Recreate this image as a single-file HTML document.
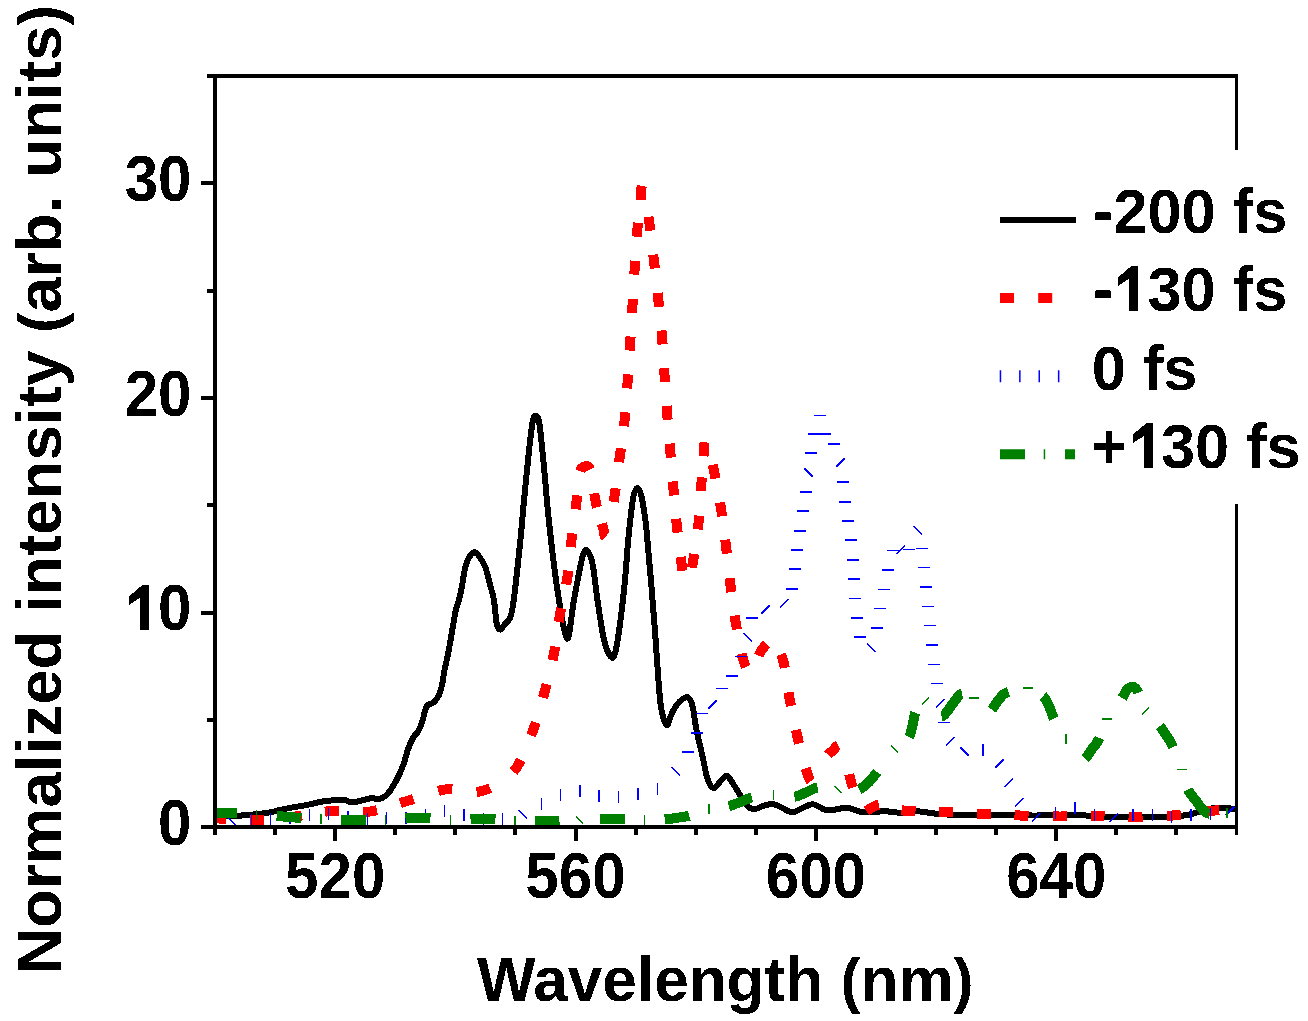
<!DOCTYPE html>
<html><head><meta charset="utf-8"><style>
html,body{margin:0;padding:0;background:#fff;width:1308px;height:1021px;overflow:hidden}
svg{display:block}
</style></head><body>
<svg width="1308" height="1021" viewBox="0 0 1308 1021">
<rect width="1308" height="1021" fill="#fff"/>
<defs><clipPath id="pc"><rect x="217" y="78" width="1018" height="747"/></clipPath><filter id="bin" x="0" y="0" width="100%" height="100%" color-interpolation-filters="sRGB"><feComponentTransfer><feFuncA type="discrete" tableValues="0 1"/></feComponentTransfer></filter></defs>
<g clip-path="url(#pc)" fill="none" stroke-linejoin="round" stroke-linecap="butt" shape-rendering="crispEdges">
<path d="M212.00,816.00 C215.55,816.00 226.68,816.23 233.30,816.00 C239.92,815.77 245.58,815.20 251.70,814.60 C257.82,814.00 265.72,813.07 270.00,812.40 C274.28,811.73 274.33,811.30 277.40,810.60 C280.47,809.90 283.52,809.13 288.40,808.20 C293.28,807.27 300.88,806.13 306.70,805.00 C312.52,803.87 317.18,802.23 323.30,801.40 C329.42,800.57 338.52,799.85 343.40,800.00 C348.28,800.15 348.00,802.58 352.60,802.30 C357.20,802.02 367.03,798.83 371.00,798.30 C374.97,797.77 374.45,799.18 376.40,799.10 C378.35,799.02 380.58,798.97 382.70,797.80 C384.82,796.63 386.97,794.75 389.10,792.10 C391.23,789.45 393.58,785.30 395.50,781.90 C397.42,778.50 399.12,775.10 400.60,771.70 C402.08,768.30 403.13,765.32 404.40,761.50 C405.67,757.68 406.72,752.83 408.20,748.80 C409.68,744.77 411.60,740.27 413.30,737.30 C415.00,734.33 416.92,733.55 418.40,731.00 C419.88,728.45 421.13,725.20 422.20,722.00 C423.27,718.80 423.95,714.55 424.80,711.80 C425.65,709.05 425.82,707.08 427.30,705.50 C428.78,703.92 431.78,704.00 433.70,702.30 C435.62,700.60 437.42,698.17 438.80,695.30 C440.18,692.43 441.07,689.23 442.00,685.10 C442.93,680.97 443.42,675.58 444.40,670.50 C445.38,665.42 446.88,659.60 447.90,654.60 C448.92,649.60 449.62,645.48 450.50,640.50 C451.38,635.52 452.32,629.70 453.20,624.70 C454.08,619.70 454.77,614.92 455.80,610.50 C456.83,606.08 458.37,602.30 459.40,598.20 C460.43,594.10 461.12,590.60 462.00,585.90 C462.88,581.20 463.82,574.12 464.70,570.00 C465.58,565.88 466.28,563.70 467.30,561.20 C468.32,558.70 469.48,556.48 470.80,555.00 C472.12,553.52 473.87,552.15 475.20,552.30 C476.53,552.45 477.13,553.45 478.80,555.90 C480.47,558.35 483.25,561.92 485.20,567.00 C487.15,572.08 489.03,580.82 490.50,586.40 C491.97,591.98 492.97,594.33 494.00,600.50 C495.03,606.67 495.67,618.55 496.70,623.40 C497.73,628.25 498.73,629.60 500.20,629.60 C501.67,629.60 503.88,625.30 505.50,623.40 C507.12,621.50 508.72,620.83 509.90,618.20 C511.08,615.57 511.72,612.60 512.60,607.60 C513.48,602.60 514.18,596.73 515.20,588.20 C516.22,579.67 517.67,566.10 518.70,556.40 C519.73,546.70 520.60,538.43 521.40,530.00 C522.20,521.57 522.27,518.65 523.50,505.80 C524.73,492.95 527.25,467.00 528.80,452.90 C530.35,438.80 531.57,427.37 532.80,421.20 C534.03,415.03 535.10,415.47 536.20,415.90 C537.30,416.33 538.20,416.32 539.40,423.80 C540.60,431.28 541.85,444.93 543.40,460.80 C544.95,476.67 546.72,499.97 548.70,519.00 C550.68,538.03 553.32,559.83 555.30,575.00 C557.28,590.17 558.98,600.33 560.60,610.00 C562.22,619.67 563.67,628.62 565.00,633.00 C566.33,637.38 567.13,641.63 568.60,636.30 C570.07,630.97 571.85,612.60 573.80,601.00 C575.75,589.40 578.77,574.37 580.30,566.70 C581.83,559.03 582.13,557.78 583.00,555.00 C583.87,552.22 584.67,550.58 585.50,550.00 C586.33,549.42 587.08,550.17 588.00,551.50 C588.92,552.83 590.08,555.03 591.00,558.00 C591.92,560.97 592.40,562.13 593.50,569.30 C594.60,576.47 595.82,589.10 597.60,601.00 C599.38,612.90 602.00,631.43 604.20,640.70 C606.40,649.97 609.03,654.38 610.80,656.60 C612.57,658.82 613.47,657.97 614.80,654.00 C616.13,650.03 617.18,644.27 618.80,632.80 C620.42,621.33 622.93,600.67 624.50,585.20 C626.07,569.73 627.18,551.37 628.20,540.00 C629.22,528.63 629.75,524.17 630.60,517.00 C631.45,509.83 632.47,501.50 633.30,497.00 C634.13,492.50 634.90,491.45 635.60,490.00 C636.30,488.55 636.87,488.30 637.50,488.30 C638.13,488.30 638.72,488.55 639.40,490.00 C640.08,491.45 640.90,494.00 641.60,497.00 C642.30,500.00 642.97,504.17 643.60,508.00 C644.23,511.83 644.90,516.17 645.40,520.00 C645.90,523.83 646.03,524.93 646.60,531.00 C647.17,537.07 648.05,547.92 648.80,556.40 C649.55,564.88 650.38,573.42 651.10,581.90 C651.82,590.38 652.43,598.82 653.10,607.30 C653.77,615.78 654.47,624.30 655.10,632.80 C655.73,641.30 656.30,649.82 656.90,658.30 C657.50,666.78 657.97,675.22 658.70,683.70 C659.43,692.18 660.03,702.32 661.30,709.20 C662.57,716.08 665.02,723.03 666.30,725.00 C667.58,726.97 668.08,722.92 669.00,721.00 C669.92,719.08 670.52,716.17 671.80,713.50 C673.08,710.83 674.87,707.45 676.70,705.00 C678.53,702.55 680.95,700.08 682.80,698.80 C684.65,697.52 686.37,696.68 687.80,697.30 C689.23,697.92 690.45,700.22 691.40,702.50 C692.35,704.78 692.67,706.48 693.50,711.00 C694.33,715.52 694.90,722.05 696.40,729.60 C697.90,737.15 700.67,748.17 702.50,756.30 C704.33,764.43 705.57,773.08 707.40,778.40 C709.23,783.72 711.27,787.80 713.50,788.20 C715.73,788.60 718.55,782.83 720.80,780.80 C723.05,778.77 724.75,775.18 727.00,776.00 C729.25,776.82 732.07,782.45 734.30,785.70 C736.53,788.95 738.15,792.03 740.40,795.50 C742.65,798.97 745.35,804.25 747.80,806.50 C750.25,808.75 752.25,809.20 755.10,809.00 C757.95,808.80 761.83,806.12 764.90,805.30 C767.97,804.48 770.65,803.68 773.50,804.10 C776.35,804.52 778.87,806.45 782.00,807.80 C785.13,809.15 788.82,812.20 792.30,812.20 C795.78,812.20 799.38,809.12 802.90,807.80 C806.42,806.48 809.30,803.87 813.40,804.30 C817.50,804.73 821.93,809.82 827.50,810.40 C833.07,810.98 840.95,807.50 846.80,807.80 C852.65,808.10 856.15,811.62 862.60,812.20 C869.05,812.78 878.75,811.15 885.50,811.30 C892.25,811.45 897.82,813.10 903.10,813.10 C908.38,813.10 911.33,811.15 917.20,811.30 C923.07,811.45 931.87,813.42 938.30,814.00 C944.73,814.58 949.95,814.57 955.80,814.80 C961.65,815.03 964.60,815.30 973.40,815.40 C982.20,815.50 998.05,815.38 1008.60,815.40 C1019.15,815.42 1025.90,815.57 1036.70,815.50 C1047.50,815.43 1061.18,814.78 1073.40,815.00 C1085.62,815.22 1097.77,816.42 1110.00,816.80 C1122.23,817.18 1134.55,817.52 1146.80,817.30 C1159.05,817.08 1174.93,816.35 1183.50,815.50 C1192.07,814.65 1193.62,813.37 1198.20,812.20 C1202.78,811.03 1207.33,809.27 1211.00,808.50 C1214.67,807.73 1216.83,807.60 1220.20,807.60 C1223.57,807.60 1227.90,808.20 1231.20,808.50 C1234.50,808.80 1238.53,809.25 1240.00,809.40" stroke="#000" stroke-width="6"/>
<path d="M210.00,818.00 C211.50,818.08 211.20,818.17 219.00,818.50 C226.80,818.83 244.13,820.33 256.80,820.00 C269.47,819.67 282.47,818.00 295.00,816.50 C307.53,815.00 319.50,811.83 332.00,811.00 C344.50,810.17 357.50,813.17 370.00,811.50 C382.50,809.83 394.50,804.67 407.00,801.00 C419.50,797.33 435.17,790.92 445.00,789.50 C454.83,788.08 459.58,792.33 466.00,792.50 C472.42,792.67 477.67,792.25 483.50,790.50 C489.33,788.75 495.33,786.07 501.00,782.00 C506.67,777.93 512.08,774.90 517.50,766.10 C522.92,757.30 528.95,741.70 533.50,729.20 C538.05,716.70 541.38,703.72 544.80,691.10 C548.22,678.48 551.50,666.15 554.00,653.50 C556.50,640.85 557.58,627.83 559.80,615.20 C562.02,602.57 565.35,590.20 567.30,577.70 C569.25,565.20 569.98,552.73 571.50,540.20 C573.02,527.67 575.32,512.37 576.40,502.50 C577.48,492.63 577.32,486.42 578.00,481.00 C578.68,475.58 579.42,472.42 580.50,470.00 C581.58,467.58 583.08,466.92 584.50,466.50 C585.92,466.08 587.75,465.92 589.00,467.50 C590.25,469.08 590.95,470.58 592.00,476.00 C593.05,481.42 593.97,493.17 595.30,500.00 C596.63,506.83 598.62,512.00 600.00,517.00 C601.38,522.00 602.77,526.67 603.60,530.00 C604.43,533.33 604.27,536.50 605.00,537.00 C605.73,537.50 606.40,539.92 608.00,533.00 C609.60,526.08 612.62,508.37 614.60,495.50 C616.58,482.63 618.22,468.45 619.90,455.80 C621.58,443.15 623.42,431.93 624.70,419.60 C625.98,407.27 626.70,394.40 627.60,381.80 C628.50,369.20 629.30,356.55 630.10,344.00 C630.90,331.45 631.63,319.15 632.40,306.50 C633.17,293.85 633.88,280.80 634.70,268.10 C635.52,255.40 636.42,240.48 637.30,230.30 C638.18,220.12 639.38,213.13 640.00,207.00 C640.62,200.87 640.73,196.92 641.00,193.50 C641.27,190.08 641.40,187.83 641.60,186.50 C641.80,185.17 641.88,185.25 642.20,185.50 C642.52,185.75 642.95,185.92 643.50,188.00 C644.05,190.08 644.52,192.12 645.50,198.00 C646.48,203.88 647.98,212.80 649.40,223.30 C650.82,233.80 652.52,248.32 654.00,261.00 C655.48,273.68 656.97,286.75 658.30,299.40 C659.63,312.05 660.97,324.35 662.00,336.90 C663.03,349.45 663.65,362.13 664.50,374.70 C665.35,387.27 666.15,399.73 667.10,412.30 C668.05,424.87 669.15,437.50 670.20,450.10 C671.25,462.70 672.30,475.37 673.40,487.90 C674.50,500.43 675.45,512.75 676.80,525.30 C678.15,537.85 680.30,554.42 681.50,563.20 C682.70,571.98 683.08,574.87 684.00,578.00 C684.92,581.13 686.00,582.00 687.00,582.00 C688.00,582.00 689.00,581.42 690.00,578.00 C691.00,574.58 691.58,570.62 693.00,561.50 C694.42,552.38 697.12,536.07 698.50,523.30 C699.88,510.53 700.38,497.12 701.30,484.90 C702.22,472.68 703.42,457.32 704.00,450.00 C704.58,442.68 704.38,442.67 704.80,441.00 C705.22,439.33 705.72,438.50 706.50,440.00 C707.28,441.50 708.25,444.83 709.50,450.00 C710.75,455.17 712.08,461.25 714.00,471.00 C715.92,480.75 719.00,496.00 721.00,508.50 C723.00,521.00 724.43,533.37 726.00,546.00 C727.57,558.63 728.80,571.67 730.40,584.30 C732.00,596.93 733.47,609.27 735.60,621.80 C737.73,634.33 740.63,651.13 743.20,659.50 C745.77,667.87 747.95,673.53 751.00,672.00 C754.05,670.47 757.83,655.47 761.50,650.30 C765.17,645.13 769.42,639.38 773.00,641.00 C776.58,642.62 780.25,650.50 783.00,660.00 C785.75,669.50 787.13,685.38 789.50,698.00 C791.87,710.62 794.22,723.05 797.20,735.70 C800.18,748.35 804.60,766.35 807.40,773.90 C810.20,781.45 810.90,783.82 814.00,781.00 C817.10,778.18 822.97,762.00 826.00,757.00 C829.03,752.00 829.87,753.00 832.20,751.00 C834.53,749.00 837.70,743.83 840.00,745.00 C842.30,746.17 844.25,752.25 846.00,758.00 C847.75,763.75 848.83,773.00 850.50,779.50 C852.17,786.00 854.08,791.58 856.00,797.00 C857.92,802.42 859.50,810.17 862.00,812.00 C864.50,813.83 868.00,809.25 871.00,808.00 C874.00,806.75 876.83,804.67 880.00,804.50 C883.17,804.33 885.50,805.92 890.00,807.00 C894.50,808.08 897.92,810.17 907.00,811.00 C916.08,811.83 931.92,811.50 944.50,812.00 C957.08,812.50 969.92,813.42 982.50,814.00 C995.08,814.58 1007.33,815.08 1020.00,815.50 C1032.67,815.92 1045.83,816.42 1058.50,816.50 C1071.17,816.58 1083.42,815.92 1096.00,816.00 C1108.58,816.08 1121.25,817.08 1134.00,817.00 C1146.75,816.92 1159.75,816.50 1172.50,815.50 C1185.25,814.50 1199.25,812.25 1210.50,811.00 C1221.75,809.75 1235.08,808.50 1240.00,808.00" stroke="#ff0000" stroke-width="10" stroke-dasharray="0.00 2.01 14.00 23.84 14.00 24.37 14.00 23.42 14.00 24.06 14.00 24.51 14.00 25.74 14.00 25.09 14.00 28.67 14.00 26.27 14.00 25.75 14.00 24.72 14.00 24.74 14.00 24.25 14.00 23.74 14.00 24.02 14.00 24.40 14.00 24.27 14.00 17.14 14.00 37.97 14.00 26.05 14.00 22.52 14.00 23.91 14.00 23.88 14.00 23.57 14.00 24.47 14.00 23.89 14.00 23.00 14.00 33.25 14.00 23.98 14.00 24.64 14.00 23.68 14.00 23.88 14.00 23.69 14.00 23.93 14.00 23.94 14.00 23.56 14.00 24.19 14.00 28.48 14.00 24.60 14.00 24.51 14.00 21.00 14.00 30.22 14.00 24.15 14.00 23.83 14.00 24.55 14.00 23.86 14.00 24.48 14.00 26.30 14.00 23.61 14.00 24.57 14.00 24.48 14.00 25.55 14.00 33.82 14.00 32.81 14.00 31.03 14.00 23.59 14.00 23.52 14.00 24.05 14.00 23.53 14.00 24.51 14.00 23.50 14.00 24.02 14.00 24.54 14.00 24.27 14.00 122.65"/>
<path d="M227.3,816.8l8.5,8.5M251.3,813.5v12M270.4,813.0v12M289.9,812.0v12M309.5,809.0v12M328.4,807.5v12M348.0,811.0v12M367.3,813.0v12M386.5,812.0v12M405.8,812.0v12M425.5,808.5v12M444.4,805.0v12M463.9,809.0v12M483.3,813.0v12M502.6,813.0v12M518.3,809.8l8.5,8.5M541.4,798.0v12M560.3,789.0v12M580.2,784.5v12M599.0,790.0v12M618.3,791.0v12M637.8,788.0v12M657.3,782.5v12M671.4,767.2l8.5,8.5M681.8,752.2h12M690.6,732.8h12M696.0,713.4h12M708.5,708.6l8.5,-8.5M715.5,688.4h12M726.0,676.0h12M735.0,656.3h12M743.5,633.2l8.5,8.5M745.6,617.8h12M761.4,613.6l8.5,-8.5M780.2,607.5l8.5,-8.5M786.3,588.7h12M789.1,569.1h12M791.0,549.9h12M793.6,530.7h12M796.5,511.2h12M800.0,491.8h12M804.2,468.2l8.5,8.5M805.3,453.2h12M808.2,433.9h12M814.1,415.3h12M818.6,434.2h12M827.8,443.8h12M836.1,466.8l8.5,-8.5M837.0,482.2h12M839.4,501.8h12M841.5,520.7h12M845.0,540.2h12M846.5,559.7h12M847.5,578.8h12M848.5,598.3h12M851.1,618.0h12M854.4,637.0h12M867.4,643.6l8.5,8.5M871.4,627.9h12M874.4,608.5h12M877.9,589.3h12M882.0,569.9h12M886.7,550.4h12M896.5,553.8l8.5,-8.5M903.0,549.4h12M913.5,526.3l8.5,8.5M915.5,548.4h12M917.5,567.4h12M919.9,586.9h12M922.3,606.3h12M924.2,625.3h12M926.4,645.0h12M928.3,664.4h12M930.9,683.6h12M936.0,707.4l8.5,-8.5M938.0,722.3h12M946.1,745.6l8.5,-8.5M960.3,747.4l8.5,8.5M982.9,743.8v12M995.2,767.7l8.5,-8.5M1004.1,787.1l8.5,-8.5M1015.0,806.4l8.5,-8.5M1032.0,821.6l8.5,-8.5M1055.3,807.0v12M1074.7,802.3v12M1094.5,809.0v12M1109.6,821.9l8.5,-8.5M1133.0,809.3v12M1152.3,809.3v12M1171.6,810.8v12M1190.8,809.3v12M1210.5,808.0v12M1225.6,815.5l8.5,-8.5" stroke="#0000ff" stroke-width="1.6"/>
<path d="M211.00,812.50 C213.25,812.55 220.17,812.72 224.50,812.80 C228.83,812.88 231.68,812.67 237.00,813.00 C242.32,813.33 249.90,814.30 256.40,814.80 C262.90,815.30 270.57,815.63 276.00,816.00 C281.43,816.37 284.67,816.67 289.00,817.00 C293.33,817.33 296.67,817.67 302.00,818.00 C307.33,818.33 314.50,818.67 321.00,819.00 C327.50,819.33 335.57,819.83 341.00,820.00 C346.43,820.17 349.43,820.00 353.60,820.00 C357.77,820.00 360.67,820.00 366.00,820.00 C371.33,820.00 379.02,820.33 385.60,820.00 C392.18,819.67 400.10,818.33 405.50,818.00 C410.90,817.67 413.80,818.00 418.00,818.00 C422.20,818.00 425.27,817.67 430.70,818.00 C436.13,818.33 443.97,819.83 450.60,820.00 C457.23,820.17 465.10,819.10 470.50,819.00 C475.90,818.90 478.75,819.33 483.00,819.40 C487.25,819.47 490.67,819.13 496.00,819.40 C501.33,819.67 508.58,820.73 515.00,821.00 C521.42,821.27 529.17,821.00 534.50,821.00 C539.83,821.00 542.78,821.00 547.00,821.00 C551.22,821.00 554.37,821.20 559.80,821.00 C565.23,820.80 572.83,820.13 579.60,819.80 C586.37,819.47 594.90,819.13 600.40,819.00 C605.90,818.87 608.55,819.00 612.60,819.00 C616.65,819.00 619.37,818.83 624.70,819.00 C630.03,819.17 638.05,819.92 644.60,820.00 C651.15,820.08 658.60,819.87 664.00,819.50 C669.40,819.13 672.67,818.47 677.00,817.80 C681.33,817.13 684.68,817.03 690.00,815.50 C695.32,813.97 702.70,810.10 708.90,808.60 C715.10,807.10 721.95,807.60 727.20,806.50 C732.45,805.40 736.00,803.58 740.40,802.00 C744.80,800.42 748.08,798.17 753.60,797.00 C759.12,795.83 767.02,795.00 773.50,795.00 C779.98,795.00 787.08,797.42 792.50,797.00 C797.92,796.58 801.53,794.17 806.00,792.50 C810.47,790.83 813.97,787.55 819.30,787.00 C824.63,786.45 832.38,788.53 838.00,789.20 C843.62,789.87 849.17,791.12 853.00,791.00 C856.83,790.88 858.33,790.00 861.00,788.50 C863.67,787.00 866.58,784.42 869.00,782.00 C871.42,779.58 873.50,776.58 875.50,774.00 C877.50,771.42 877.83,770.62 881.00,766.50 C884.17,762.38 890.00,753.88 894.50,749.30 C899.00,744.72 905.00,743.00 908.00,739.00 C911.00,735.00 911.17,729.97 912.50,725.30 C913.83,720.63 913.83,715.08 916.00,711.00 C918.17,706.92 921.42,699.88 925.50,700.80 C929.58,701.72 936.17,715.72 940.50,716.50 C944.83,717.28 948.03,709.25 951.50,705.50 C954.97,701.75 957.58,695.25 961.30,694.00 C965.02,692.75 969.85,694.33 973.80,698.00 C977.75,701.67 980.88,715.67 985.00,716.00 C989.12,716.33 995.33,703.67 998.50,700.00 C1001.67,696.33 1001.75,695.50 1004.00,694.00 C1006.25,692.50 1008.05,692.00 1012.00,691.00 C1015.95,690.00 1022.53,687.17 1027.70,688.00 C1032.87,688.83 1039.45,693.00 1043.00,696.00 C1046.55,699.00 1047.17,702.25 1049.00,706.00 C1050.83,709.75 1051.18,713.00 1054.00,718.50 C1056.82,724.00 1061.40,732.08 1065.90,739.00 C1070.40,745.92 1076.65,758.33 1081.00,760.00 C1085.35,761.67 1089.00,752.50 1092.00,749.00 C1095.00,745.50 1096.50,744.00 1099.00,739.00 C1101.50,734.00 1103.33,725.50 1107.00,719.00 C1110.67,712.50 1117.50,705.08 1121.00,700.00 C1124.50,694.92 1125.42,690.25 1128.00,688.50 C1130.58,686.75 1133.62,685.75 1136.50,689.50 C1139.38,693.25 1142.22,705.92 1145.30,711.00 C1148.38,716.08 1151.47,715.92 1155.00,720.00 C1158.53,724.08 1163.25,730.50 1166.50,735.50 C1169.75,740.50 1171.92,744.33 1174.50,750.00 C1177.08,755.67 1179.92,763.17 1182.00,769.50 C1184.08,775.83 1184.50,782.58 1187.00,788.00 C1189.50,793.42 1194.33,798.33 1197.00,802.00 C1199.67,805.67 1200.83,808.00 1203.00,810.00 C1205.17,812.00 1206.00,813.53 1210.00,814.00 C1214.00,814.47 1222.00,813.13 1227.00,812.80 C1232.00,812.47 1237.83,812.13 1240.00,812.00" stroke="#008000" stroke-width="10" stroke-dasharray="0.00 1.00 25.00 39.66 25.00 39.69 25.00 39.51 25.00 40.15 25.00 39.07 25.00 40.66 25.00 39.56 25.00 40.76 25.00 42.62 25.00 42.32 25.00 48.09 25.00 39.79 31.00 44.05 25.00 37.11 25.00 54.76 25.00 45.99 25.00 40.68 25.00 44.92 33.00 131.90"/>
<path d="M256.4,809.8v10M321.0,814.0v10M385.6,815.0v10M450.6,815.0v10M515.0,816.0v10M576.1,816.3l7.07,7.07M644.6,815.0v10M708.9,803.6v10M773.5,790.0v10M834.5,785.7l7.07,7.07M891.0,745.8l7.07,7.07M922.0,704.3l7.07,-7.07M968.8,698.0h10M1022.7,688.0h10M1065.9,734.0v10M1102.0,719.0h10M1141.8,714.5l7.07,-7.07M1177.0,769.5h10M1227.0,807.8v10" stroke="#008000" stroke-width="1.6"/>
</g>
<g fill="#000" shape-rendering="crispEdges">
<rect x="213" y="74" width="1025" height="4"/>
<rect x="213" y="74" width="4" height="755"/>
<rect x="201" y="825" width="1037" height="4"/>
<rect x="1235" y="74" width="3" height="76"/>
<rect x="1235" y="504" width="3" height="331"/>
<rect x="201" y="825" width="14" height="4"/>
<rect x="207" y="718" width="8" height="4"/>
<rect x="201" y="611" width="14" height="4"/>
<rect x="207" y="503" width="8" height="4"/>
<rect x="201" y="396" width="14" height="4"/>
<rect x="207" y="289" width="8" height="4"/>
<rect x="201" y="181" width="14" height="4"/>
<rect x="207" y="74" width="8" height="4"/>
<rect x="213" y="827" width="4" height="8"/>
<rect x="273" y="827" width="4" height="8"/>
<rect x="333" y="827" width="4" height="14"/>
<rect x="393" y="827" width="4" height="8"/>
<rect x="453" y="827" width="4" height="8"/>
<rect x="513" y="827" width="4" height="8"/>
<rect x="574" y="827" width="4" height="14"/>
<rect x="634" y="827" width="4" height="8"/>
<rect x="694" y="827" width="4" height="8"/>
<rect x="754" y="827" width="4" height="8"/>
<rect x="814" y="827" width="4" height="14"/>
<rect x="874" y="827" width="4" height="8"/>
<rect x="934" y="827" width="4" height="8"/>
<rect x="994" y="827" width="4" height="8"/>
<rect x="1054" y="827" width="4" height="14"/>
<rect x="1114" y="827" width="4" height="8"/>
<rect x="1174" y="827" width="4" height="8"/>
</g>
<g font-family='"Liberation Sans", sans-serif' font-weight="bold" fill="#000" filter="url(#bin)">
<text transform="translate(191.5,845.0) scale(0.925,1)" font-size="65.0" text-anchor="end">0</text>
<text transform="translate(191.5,630.3) scale(0.925,1)" font-size="65.0" text-anchor="end">10</text>
<text transform="translate(191.5,415.7) scale(0.925,1)" font-size="65.0" text-anchor="end">20</text>
<text transform="translate(191.5,201.0) scale(0.925,1)" font-size="65.0" text-anchor="end">30</text>
<text transform="translate(335.2,898.0) scale(0.925,1)" font-size="65.0" text-anchor="middle">520</text>
<text transform="translate(575.5,898.0) scale(0.925,1)" font-size="65.0" text-anchor="middle">560</text>
<text transform="translate(815.9,898.0) scale(0.925,1)" font-size="65.0" text-anchor="middle">600</text>
<text transform="translate(1056.3,898.0) scale(0.925,1)" font-size="65.0" text-anchor="middle">640</text>
<text transform="translate(477.0,1001.0) scale(0.978,1)" font-size="63.5" text-anchor="start">Wavelength <tspan font-size="61.5">(</tspan>nm<tspan font-size="61.5">)</tspan></text>
<text transform="translate(61.0,974.0) rotate(-90) scale(1.004,1)" font-size="63.5" text-anchor="start">Normalized intensity <tspan font-size="61.5">(</tspan>arb. units<tspan font-size="61.5">)</tspan></text>
<text transform="translate(1093.0,233.0) scale(0.966,1)" font-size="63.5" text-anchor="start">-200 fs</text>
<text transform="translate(1093.0,311.0) scale(0.966,1)" font-size="63.5" text-anchor="start">-130 fs</text>
<text transform="translate(1091.8,390.0) scale(0.966,1)" font-size="63.5" text-anchor="start">0 fs</text>
<text transform="translate(1091.0,468.0) scale(0.966,1)" font-size="63.5" text-anchor="start">+130 fs</text>
</g>
<g shape-rendering="crispEdges">
<rect x="127" y="582" width="30" height="50" fill="#fff"/>
<rect x="1114" y="265" width="33" height="48" fill="#fff"/>
<rect x="1128" y="422" width="32" height="48" fill="#fff"/>
<g fill="#000"><polygon points="142.2,585.0 149.0,585.0 149.0,629.8 140.0,629.8 140.0,597.8 129.2,604.8 129.2,596.2 141.2,586.0"/><polygon points="1131.2,266.0 1138.0,266.0 1138.0,310.7 1129.0,310.7 1129.0,278.8 1118.2,285.8 1118.2,277.2 1130.2,267.0"/><polygon points="1146.2,423.1 1153.0,423.1 1153.0,467.8 1144.0,467.8 1144.0,435.9 1133.2,442.9 1133.2,434.3 1145.2,424.1"/></g>
</g>
<g>
<rect x="1000" y="217" width="76" height="6" fill="#000"/>
<path d="M1000,298 H1076" stroke="#ff0000" stroke-width="10" stroke-dasharray="14 24.2"/>
<path d="M999.7,376.2 H1076" stroke="#0000ff" stroke-width="12" stroke-dasharray="1.5 17.9"/>
<path d="M1000,454.2 H1075" stroke="#008000" stroke-width="10" stroke-dasharray="25 18.7 1.5 19.8"/>
</g>
</svg>
</body></html>
